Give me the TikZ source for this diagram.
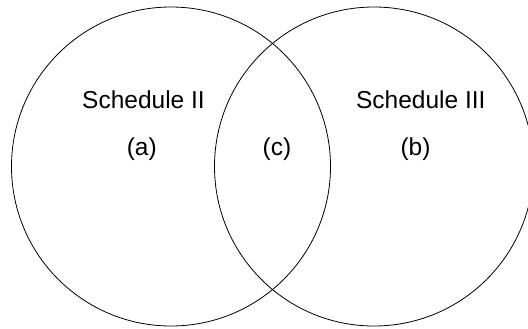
\documentclass[tikz,border=0pt]{standalone}
\usepackage{fontspec}
\setmainfont{Liberation Sans}
\begin{document}
\begin{tikzpicture}[x=1bp,y=1bp,
  setcircle/.style={draw=black,line width=0.8bp},
  lbl/.style={anchor=base,inner sep=0pt,font=\fontsize{24.5bp}{28bp}\selectfont}]
\useasboundingbox (0,0) rectangle (528,328);
\clip (0,0) rectangle (528,328);
\fill[white] (0,0) rectangle (528,328);
\node[setcircle,circle,minimum size=319bp,inner sep=0pt] (L) at (171,161.5) {};
\node[setcircle,circle,minimum size=319bp,inner sep=0pt] (R) at (374,161.5) {};
\node[lbl] (s2) at (143.5,220) {Schedule II};
\node[lbl] (s3) at (420.8,220) {Schedule III};
\node[lbl] (a) at (141.8,173) {(a)};
\node[lbl] (c) at (277,173) {(c)};
\node[lbl] (b) at (415.5,173) {(b)};
\end{tikzpicture}
\end{document}
